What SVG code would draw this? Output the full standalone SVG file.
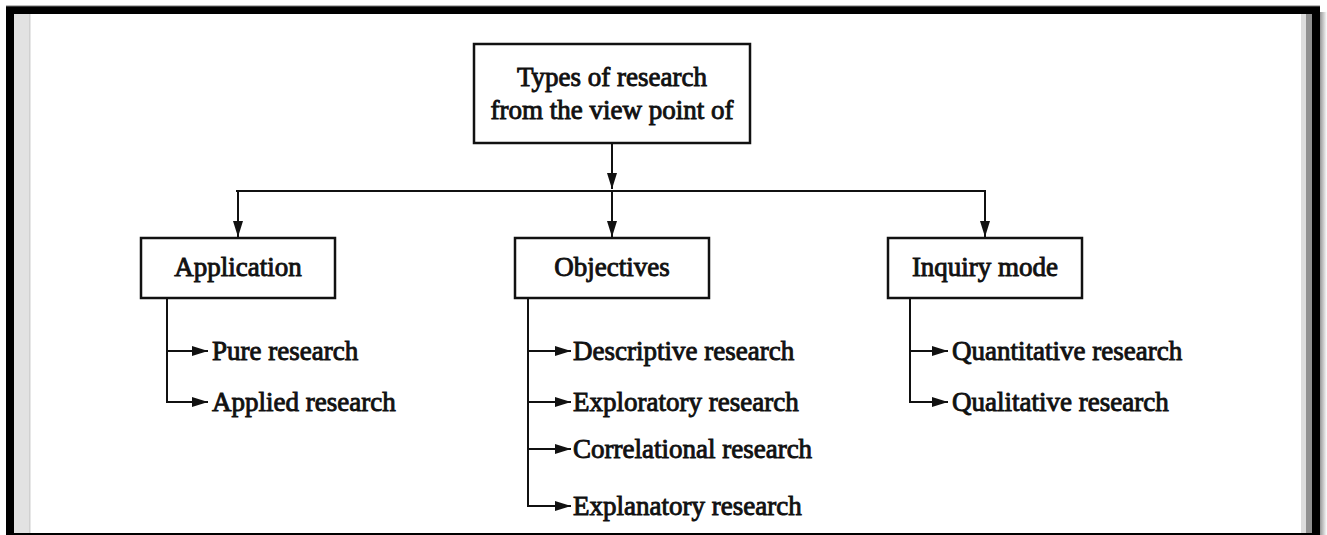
<svg xmlns="http://www.w3.org/2000/svg" width="1327" height="535" viewBox="0 0 1327 535">
<defs>
<style>
.box{fill:#fff;stroke:#111;stroke-width:2.5}
.ln{fill:none;stroke:#111;stroke-width:2}
.t{font-family:"Liberation Serif","Times New Roman",serif;font-size:27px;fill:#111;stroke:#111;stroke-width:0.9}
.c{text-anchor:middle}
</style>
<marker id="ah" viewBox="0 0 16 10" refX="16" refY="5" markerWidth="16" markerHeight="10" markerUnits="userSpaceOnUse" orient="auto">
<path d="M0,0 L16,5 L0,10 Z" fill="#111"/>
</marker>
<linearGradient id="rs" x1="0" x2="1" y1="0" y2="0">
<stop offset="0" stop-color="#888"/><stop offset="1" stop-color="#fff"/>
</linearGradient>
</defs>
<rect x="0" y="0" width="1327" height="535" fill="#fff"/>
<!-- frame -->
<rect x="14" y="14" width="16" height="521" fill="#e2e2e2"/>
<rect x="29" y="14" width="1.5" height="521" fill="#d0d0d0"/>
<rect x="1301" y="14" width="5" height="521" fill="#dcdcdc"/>
<rect x="1306" y="14" width="6" height="521" fill="#909090"/>
<rect x="1319" y="12" width="8" height="523" fill="url(#rs)"/>
<rect x="6" y="6" width="1314" height="8" fill="#000"/>
<rect x="6" y="6" width="8" height="529" fill="#000"/>
<rect x="1312" y="6" width="8" height="529" fill="#000"/>
<rect x="6" y="533" width="1314" height="2" fill="#000"/>
<rect x="6" y="5.5" width="1314" height="1" fill="#777"/>

<g id="connectors">
<line class="ln" x1="612" y1="143" x2="612" y2="189" marker-end="url(#ah)"/>
<line class="ln" x1="236" y1="191" x2="986" y2="191"/>
<line class="ln" x1="238" y1="191" x2="238" y2="237" marker-end="url(#ah)"/>
<line class="ln" x1="612" y1="191" x2="612" y2="237" marker-end="url(#ah)"/>
<line class="ln" x1="985" y1="191" x2="985" y2="237" marker-end="url(#ah)"/>
<path class="ln" d="M167,298 V402 H208" marker-end="url(#ah)"/>
<line class="ln" x1="167" y1="351" x2="208" y2="351" marker-end="url(#ah)"/>
<path class="ln" d="M528,298 V506 H571" marker-end="url(#ah)"/>
<line class="ln" x1="528" y1="351" x2="571" y2="351" marker-end="url(#ah)"/>
<line class="ln" x1="528" y1="402" x2="571" y2="402" marker-end="url(#ah)"/>
<line class="ln" x1="528" y1="449" x2="571" y2="449" marker-end="url(#ah)"/>
<path class="ln" d="M910,298 V402 H948" marker-end="url(#ah)"/>
<line class="ln" x1="910" y1="351" x2="948" y2="351" marker-end="url(#ah)"/>
</g>

<g id="root">
<rect class="box" x="474" y="44" width="276" height="99"/>
<text class="t c" x="612" y="86">Types of research</text>
<text class="t c" x="612" y="119">from the view point of</text>
</g>
<g id="application">
<rect class="box" x="141" y="238" width="194" height="60"/>
<text class="t c" x="238" y="276">Application</text>
</g>
<g id="objectives">
<rect class="box" x="515" y="238" width="194" height="60"/>
<text class="t c" x="612" y="276">Objectives</text>
</g>
<g id="inquiry">
<rect class="box" x="888" y="238" width="194" height="60"/>
<text class="t c" x="985" y="276">Inquiry mode</text>
</g>
<g id="leaves">
<text class="t" x="212" y="360">Pure research</text>
<text class="t" x="212" y="411">Applied research</text>
<text class="t" x="573" y="360">Descriptive research</text>
<text class="t" x="573" y="411">Exploratory research</text>
<text class="t" x="573" y="458">Correlational research</text>
<text class="t" x="573" y="515">Explanatory research</text>
<text class="t" x="952" y="360">Quantitative research</text>
<text class="t" x="952" y="411">Qualitative research</text>
</g>
</svg>
